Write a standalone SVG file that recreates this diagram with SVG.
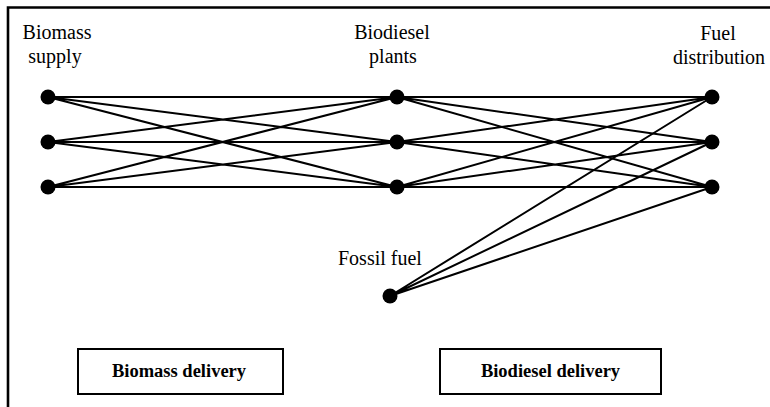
<svg xmlns="http://www.w3.org/2000/svg" width="770" height="407" viewBox="0 0 770 407">
<style>
text{font-family:'Liberation Serif','Times New Roman','DejaVu Serif',serif;fill:#000}
.t{font-size:20px}
.b{font-size:18.5px;font-weight:bold;text-anchor:middle}
.c{text-anchor:middle}
.dot{fill:#000}
.ln{stroke:#000;stroke-width:2;fill:none}
.box{fill:#fff;stroke:#000;stroke-width:2}
</style>
<rect width="770" height="407" fill="#fff"/>
<path d="M8,408 V7.5 H771" fill="none" stroke="#000" stroke-width="2.6"/>
<g id="connectors" class="ln">
<path d="M48,97 L397,97 M48,97 L397,142 M48,97 L397,187 M48,142 L397,97 M48,142 L397,142 M48,142 L397,187 M48,187 L397,97 M48,187 L397,142 M48,187 L397,187"/>
<path d="M397,97 L712,97 M397,97 L712,142 M397,97 L712,187 M397,142 L712,97 M397,142 L712,142 M397,142 L712,187 M397,187 L712,97 M397,187 L712,142 M397,187 L712,187"/>
<path d="M390,296 L712,97 M390,296 L712,142 M390,296 L712,187"/>
</g>
<g id="biomass-supply">
<text class="t c" x="57" y="39" font-family="Liberation Serif, serif">Biomass</text>
<text class="t c" x="55" y="63" font-family="Liberation Serif, serif">supply</text>
<circle class="dot" cx="48" cy="97" r="7.5"/>
<circle class="dot" cx="48" cy="142" r="7.5"/>
<circle class="dot" cx="48" cy="187" r="7.5"/>
</g>
<g id="biodiesel-plants">
<text class="t c" x="392" y="39" font-family="Liberation Serif, serif">Biodiesel</text>
<text class="t c" x="393" y="63" font-family="Liberation Serif, serif">plants</text>
<circle class="dot" cx="397" cy="97" r="7.5"/>
<circle class="dot" cx="397" cy="142" r="7.5"/>
<circle class="dot" cx="397" cy="187" r="7.5"/>
</g>
<g id="fuel-distribution">
<text class="t c" x="718" y="40" font-family="Liberation Serif, serif">Fuel</text>
<text class="t c" x="719" y="64" font-family="Liberation Serif, serif">distribution</text>
<circle class="dot" cx="712" cy="97" r="7.5"/>
<circle class="dot" cx="712" cy="142" r="7.5"/>
<circle class="dot" cx="712" cy="187" r="7.5"/>
</g>
<g id="fossil-fuel">
<text class="t" x="338" y="265" font-family="Liberation Serif, serif">Fossil fuel</text>
<circle class="dot" cx="390" cy="296" r="7.5"/>
</g>
<g id="biomass-delivery">
<rect class="box" x="78" y="349" width="205" height="45"/>
<text class="b" x="179" y="377" font-family="Liberation Serif, serif">Biomass delivery</text>
</g>
<g id="biodiesel-delivery">
<rect class="box" x="440" y="349" width="221" height="45"/>
<text class="b" x="550.5" y="377" font-family="Liberation Serif, serif">Biodiesel delivery</text>
</g>
</svg>
